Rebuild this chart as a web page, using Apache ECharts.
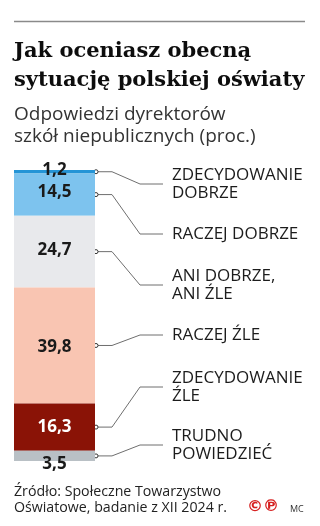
<!DOCTYPE html>
<html><head><meta charset="utf-8">
<script src="https://cdn.jsdelivr.net/npm/echarts@6/dist/echarts.min.js"></script>
<style>html,body{margin:0;padding:0;background:#fff}#c{width:320px;height:526px}</style>
</head><body><div id="c"></div>
<script>
// ---- data ----
var categories = ['ZDECYDOWANIE\nDOBRZE', 'RACZEJ DOBRZE', 'ANI DOBRZE,\nANI ŹLE', 'RACZEJ ŹLE', 'ZDECYDOWANIE\nŹLE', 'TRUDNO\nPOWIEDZIEĆ'];
var values = [1.2, 14.5, 24.7, 39.8, 16.3, 3.5];
var axisMax = 100;

// ---- styles / layout ----
var colors = ['#2494d6', '#7dc3ee', '#e8e9ec', '#f9c5b2', '#8a1306', '#b9c0c5'];
var valueColors = ['#1a1a1a', '#1a1a1a', '#1a1a1a', '#1a1a1a', '#ffffff', '#1a1a1a'];
var valueOffsets = [[0, -2], [0, -2], [0, -1], [0, 2], [0, 0], [0, 8]];
var labelEndY = [184, 234, 285, 335, 387, 445];

var chart = echarts.init(document.getElementById('c'));
var starts = [];
var acc = 0;
values.forEach(function (v) { starts.push(acc); acc += v; });

var barSeries = values.map(function (v, i) {
  return {
    type: 'bar', stack: 'a', barWidth: '100%', silent: true,
    data: [v],
    itemStyle: { color: colors[i] },
    label: {
      show: true, position: 'inside', offset: valueOffsets[i],
      formatter: function () { return String(v).replace('.', ','); },
      color: valueColors[i], fontFamily: 'Open Sans', fontWeight: 'bold', fontSize: 17
    }
  };
});

var annot = {
  type: 'custom', silent: true, coordinateSystem: 'cartesian2d',
  data: values.map(function (v, i) { return [0, starts[i] + v / 2, i]; }),
  renderItem: function (params, api) {
    var i = api.value(2);
    var p = api.coord([0, api.value(1)]);
    var half = api.size([1, 0])[0] / 2;
    var x0 = p[0] + half + 1;
    var y0 = p[1];
    var yL = labelEndY[i];
    return {
      type: 'group', children: [
        { type: 'polyline', shape: { points: [[x0 + 2, y0], [112, y0], [140, yL], [163, yL]] },
          style: { stroke: '#6e6e6e', lineWidth: 1, fill: null } },
        { type: 'circle', shape: { cx: x0, cy: y0, r: 2 },
          style: { fill: '#fff', stroke: '#333', lineWidth: 1 } },
        { type: 'text', x: 172, y: yL,
          style: { text: categories[i], fill: '#1c1c1c', font: '17px "Open Sans"',
            lineHeight: 18.5, verticalAlign: 'middle', align: 'left' } }
      ]
    };
  }
};

chart.setOption({
  animation: false,
  grid: { left: 14, top: 170, width: 81, height: 291 },
  xAxis: { type: 'category', data: [''], show: false },
  yAxis: { type: 'value', min: 0, max: axisMax, inverse: true, show: false },
  title: [
    { text: 'Jak oceniasz obecną\nsytuację polskiej oświaty', left: 14, top: 37, padding: 0,
      textStyle: { fontFamily: 'DejaVu Serif', fontWeight: 'bold', fontSize: 21, lineHeight: 29, color: '#0d0d0d' } },
    { text: 'Odpowiedzi dyrektorów\nszkół niepublicznych (proc.)', left: 14, top: 104, padding: 0,
      textStyle: { fontFamily: 'Open Sans', fontWeight: 'normal', fontSize: 19, lineHeight: 22, color: '#333' } },
    { text: 'Źródło: Społeczne Towarzystwo\nOświatowe, badanie z XII 2024 r.', left: 14, top: 484, padding: 0,
      textStyle: { fontFamily: 'Open Sans', fontWeight: 'normal', fontSize: 14.2, lineHeight: 16, color: '#222' } }
  ],
  graphic: [
    { type: 'line', shape: { x1: 14, y1: 21.5, x2: 305, y2: 21.5 }, style: { stroke: '#8a8a8a', lineWidth: 1.5 } },
    { type: 'text', left: 247, top: 499, style: { text: '©℗', fill: '#d62020', font: 'bold 16px "DejaVu Sans"' } },
    { type: 'text', left: 290, top: 505, style: { text: 'MC', fill: '#333', font: '9px "Open Sans"' } }
  ],
  series: barSeries.concat([annot])
});
</script></body></html>
